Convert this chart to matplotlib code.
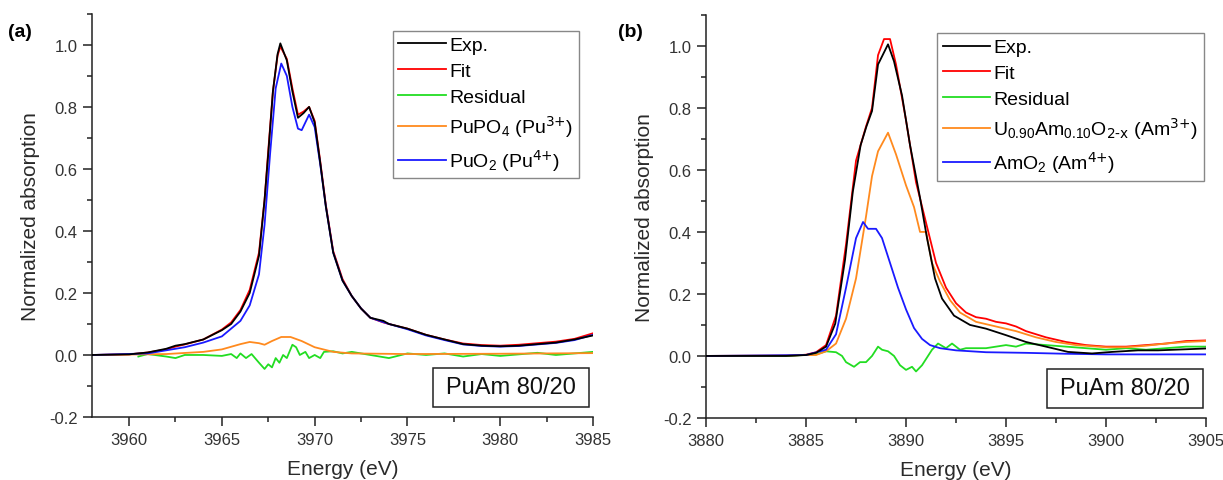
import matplotlib
matplotlib.use("Agg")
import matplotlib.pyplot as plt
from matplotlib.ticker import MultipleLocator
from matplotlib.patches import Rectangle

plt.rcParams['font.family'] = ['Liberation Sans', 'DejaVu Sans']
plt.rcParams['mathtext.default'] = 'regular'

# ---------------- Panel (a) data ----------------
a_exp_E = [3958, 3960, 3961, 3962, 3962.5, 3963, 3964, 3965, 3965.5, 3966, 3966.5, 3967, 3967.3, 3967.5,
           3967.75, 3968.0, 3968.15, 3968.5, 3968.8, 3969.1, 3969.4, 3969.7, 3970.0, 3970.3, 3970.6,
           3971.0, 3971.5, 3972, 3972.5, 3973, 3973.7, 3974, 3975, 3976, 3977, 3978, 3979, 3980, 3981,
           3982, 3983, 3984, 3985]
a_exp = [0.0, 0.002, 0.008, 0.02, 0.03, 0.035, 0.05, 0.08, 0.10, 0.14, 0.2, 0.32, 0.5, 0.65,
         0.85, 0.97, 1.005, 0.95, 0.85, 0.765, 0.78, 0.80, 0.75, 0.62, 0.48,
         0.33, 0.24, 0.19, 0.15, 0.12, 0.11, 0.10, 0.085, 0.065, 0.05, 0.035, 0.03, 0.028, 0.03,
         0.035, 0.04, 0.05, 0.063]
a_fit = [0.0, 0.002, 0.008, 0.018, 0.027, 0.034, 0.05, 0.082, 0.105, 0.145, 0.21, 0.33, 0.5, 0.66,
         0.85, 0.965, 0.995, 0.955, 0.86, 0.775, 0.785, 0.80, 0.755, 0.625, 0.485,
         0.335, 0.245, 0.19, 0.15, 0.12, 0.105, 0.10, 0.085, 0.065, 0.05, 0.037, 0.032, 0.03, 0.033,
         0.038, 0.043, 0.052, 0.07]
a_puo2_E = [3958, 3961, 3962, 3963, 3964, 3965, 3966, 3966.5, 3967, 3967.3, 3967.6, 3967.9, 3968.2,
            3968.5, 3968.8, 3969.1, 3969.3, 3969.7, 3970.0, 3970.3, 3970.6, 3971.0, 3971.5, 3972,
            3972.5, 3973, 3974, 3975, 3976, 3977, 3978, 3979, 3980, 3981, 3982, 3983, 3984, 3985]
a_puo2 = [0.0, 0.005, 0.015, 0.025, 0.04, 0.06, 0.11, 0.16, 0.26, 0.42, 0.65, 0.86, 0.94,
          0.90, 0.80, 0.73, 0.725, 0.775, 0.735, 0.615, 0.48, 0.33, 0.24, 0.19,
          0.15, 0.12, 0.10, 0.083, 0.063, 0.048, 0.034, 0.029, 0.027, 0.029, 0.034, 0.039, 0.048, 0.065]
a_pupo4_E = [3958, 3962, 3964, 3965, 3966, 3966.5, 3967.0, 3967.3, 3967.7, 3968.2, 3968.7, 3969.3,
             3970, 3971, 3972, 3975, 3980, 3985]
a_pupo4 = [0.0, 0.003, 0.01, 0.018, 0.035, 0.042, 0.038, 0.033, 0.045, 0.058, 0.058, 0.045,
           0.025, 0.01, 0.005, 0.003, 0.004, 0.006]
a_res_E = [3960.5, 3961, 3962, 3962.5, 3963, 3964, 3965, 3965.5, 3965.8, 3966, 3966.3, 3966.6, 3967.0,
           3967.3, 3967.5, 3967.7, 3967.9, 3968.1, 3968.3, 3968.5, 3968.8, 3969.0, 3969.2, 3969.5,
           3969.7, 3970, 3970.3, 3970.5, 3971, 3971.5, 3972, 3973, 3973.5, 3974, 3975, 3976, 3977,
           3978, 3979, 3980, 3981, 3982, 3983, 3984, 3985]
a_res = [-0.005, 0.003, -0.005, -0.01, 0.0, 0.0, -0.003, 0.003, -0.01, 0.005, -0.01, 0.003, -0.025,
         -0.045, -0.03, -0.04, -0.01, -0.025, 0.0, -0.01, 0.033, 0.025, 0.0, 0.01,
         -0.01, 0.0, -0.01, 0.01, 0.012, 0.005, 0.01, 0.0, -0.005, -0.01, 0.005, 0.0, 0.005,
         -0.005, 0.003, -0.003, 0.002, 0.007, 0.0, 0.005, 0.01]

# ---------------- Panel (b) data ----------------
b_exp_E = [3880, 3884, 3885, 3885.5, 3886, 3886.46, 3886.95, 3887.34, 3887.73, 3888.02, 3888.3, 3888.6,
           3889.1, 3889.4, 3889.8, 3890.2, 3890.7, 3891.05, 3891.45, 3891.8, 3892.4, 3893.2, 3894,
           3895, 3896, 3897, 3898.1, 3899.3, 3900.3, 3901.6, 3902.6, 3905]
b_exp = [0.0, 0.0, 0.003, 0.01, 0.03, 0.104, 0.31, 0.53, 0.68, 0.74, 0.79, 0.94,
         1.005, 0.95, 0.84, 0.68, 0.51, 0.38, 0.25, 0.185, 0.13, 0.10, 0.088,
         0.067, 0.045, 0.03, 0.013, 0.008, 0.013, 0.018, 0.018, 0.024]
b_fit_E = [3880, 3884, 3885, 3885.5, 3886, 3886.5, 3887, 3887.5, 3888, 3888.3, 3888.6, 3888.9, 3889.2,
           3889.5, 3890.0, 3890.5, 3891, 3891.5, 3892, 3892.5, 3893, 3893.5, 3894, 3894.5, 3895,
           3895.5, 3896, 3896.5, 3897, 3898, 3899, 3900, 3901, 3902, 3903, 3904, 3905]
b_fit = [0.0, 0.0, 0.004, 0.012, 0.035, 0.13, 0.36, 0.63, 0.74, 0.80, 0.97, 1.022, 1.022,
         0.94, 0.76, 0.56, 0.43, 0.30, 0.22, 0.17, 0.14, 0.125, 0.12, 0.11, 0.105,
         0.095, 0.08, 0.07, 0.06, 0.045, 0.035, 0.03, 0.03, 0.035, 0.04, 0.048, 0.05]
b_u_E = [3880, 3885.5, 3886, 3886.5, 3887, 3887.5, 3888.0, 3888.3, 3888.6, 3889.1, 3889.5, 3890.0,
         3890.4, 3890.7, 3891.0, 3891.3, 3891.7, 3892.2, 3892.7, 3893.5, 3894.5, 3895.5, 3896.5,
         3897.5, 3898.5, 3900, 3901, 3902, 3903, 3904, 3905]
b_u = [0.0, 0.003, 0.015, 0.04, 0.12, 0.25, 0.45, 0.58, 0.66, 0.72, 0.65, 0.55,
       0.48, 0.40, 0.40, 0.30, 0.24, 0.18, 0.14, 0.11, 0.095, 0.08, 0.06,
       0.045, 0.035, 0.028, 0.028, 0.033, 0.04, 0.045, 0.048]
b_amo2_E = [3880, 3885, 3886, 3886.5, 3887, 3887.5, 3887.85, 3888.1, 3888.5, 3888.8, 3889.2, 3889.6,
            3890.0, 3890.4, 3890.8, 3891.2, 3891.7, 3892.5, 3894, 3896, 3898, 3900, 3905]
b_amo2 = [0.0, 0.003, 0.02, 0.07, 0.22, 0.38, 0.432, 0.41, 0.41, 0.38, 0.30, 0.22,
          0.15, 0.09, 0.055, 0.035, 0.025, 0.018, 0.012, 0.01, 0.007, 0.005, 0.005]
b_res_E = [3881, 3884, 3885.5, 3886, 3886.5, 3886.8, 3887, 3887.4, 3887.7, 3888, 3888.3, 3888.6,
           3888.8, 3889.1, 3889.4, 3889.7, 3890.0, 3890.3, 3890.5, 3890.8, 3891.0, 3891.3, 3891.6,
           3892.0, 3892.3, 3892.7, 3893, 3894, 3894.5, 3895, 3895.5, 3896, 3897, 3898, 3899, 3900,
           3901, 3902, 3903, 3904, 3905]
b_res = [0.0, 0.0, 0.005, 0.015, 0.012, 0.0, -0.02, -0.035, -0.02, -0.02, 0.0, 0.03,
         0.02, 0.015, 0.0, -0.03, -0.045, -0.035, -0.05, -0.03, -0.01, 0.02, 0.04,
         0.025, 0.04, 0.02, 0.025, 0.025, 0.03, 0.035, 0.03, 0.04, 0.035, 0.03, 0.025, 0.02,
         0.025, 0.02, 0.025, 0.03, 0.03]

labels_a = ['Exp.', 'Fit', 'Residual', r'PuPO$_4$ (Pu$^{\text{3+}}$)', r'PuO$_2$ (Pu$^{\text{4+}}$)']
labels_b = ['Exp.', 'Fit', 'Residual',
            r'U$_{0.90}$Am$_{0.10}$O$_{\text{2-x}}$ (Am$^{\text{3+}}$)',
            r'AmO$_2$ (Am$^{\text{4+}}$)']
sample_label = 'PuAm 80/20'

C_EXP, C_FIT, C_RES, C_ORA, C_BLU = '#000000', '#ff0000', '#22dd22', '#ff8a1e', '#1a1aff'
LW = 1.3
TXT = '#2a2a2a'

fig = plt.figure(figsize=(12.23, 4.81), dpi=100)
axa = fig.add_axes([0.0752, 0.131, 0.4097, 0.838])
axb = fig.add_axes([0.5773, 0.129, 0.4088, 0.838])


def style(ax, xlim, box_x):
    ax.set_xlim(*xlim)
    ax.set_ylim(-0.2, 1.1)
    for s in ['top', 'right']:
        ax.spines[s].set_visible(False)
    for s in ['left', 'bottom']:
        ax.spines[s].set_linewidth(1.1)
        ax.spines[s].set_color('#222222')
    ax.xaxis.set_major_locator(MultipleLocator(5))
    ax.xaxis.set_minor_locator(MultipleLocator(2.5))
    ax.yaxis.set_minor_locator(MultipleLocator(0.1))
    ax.set_yticks([-0.2, 0.0, 0.2, 0.4, 0.6, 0.8, 1.0])
    ax.set_yticklabels(['-0.2', '0.0', '0.2', '0.4', '0.6', '0.8', '1.0'])
    ax.tick_params(which='major', direction='out', length=6.5, width=1.1, labelsize=12,
                   colors='#222222', labelcolor='#333333', pad=4)
    ax.tick_params(which='minor', direction='out', length=3.5, width=1.1, colors='#222222')
    ax.set_xlabel('Energy (eV)', fontsize=15, labelpad=9, color=TXT)
    ax.set_ylabel('Normalized absorption', fontsize=15, labelpad=6, color=TXT)
    x0, x1 = box_x
    ax.add_patch(Rectangle((x0, -0.168), x1 - x0, 0.126, fill=True, fc='white',
                           ec='#222222', lw=1.1, zorder=4))
    ax.text((x0 + x1) / 2, -0.103, sample_label, fontsize=17, ha='center', va='center',
            color='#111111', zorder=5)


LEG = dict(loc='upper right', fontsize=14, frameon=True, fancybox=False, edgecolor='#888888',
           handlelength=2.45, handletextpad=0.15, labelspacing=0.42, borderpad=0.3,
           borderaxespad=0.0, framealpha=1)

la = [
    axa.plot(a_exp_E, a_exp, color=C_EXP, lw=LW)[0],
    axa.plot(a_exp_E, a_fit, color=C_FIT, lw=LW)[0],
    axa.plot(a_res_E, a_res, color=C_RES, lw=LW)[0],
    axa.plot(a_pupo4_E, a_pupo4, color=C_ORA, lw=LW)[0],
    axa.plot(a_puo2_E, a_puo2, color=C_BLU, lw=LW)[0],
]
la[0].set_zorder(3)
style(axa, (3958, 3985), (3976.4, 3984.8))
axa.legend(la, labels_a, bbox_to_anchor=(0.972, 0.958), **LEG)

lb = [
    axb.plot(b_exp_E, b_exp, color=C_EXP, lw=LW)[0],
    axb.plot(b_fit_E, b_fit, color=C_FIT, lw=LW)[0],
    axb.plot(b_res_E, b_res, color=C_RES, lw=LW)[0],
    axb.plot(b_u_E, b_u, color=C_ORA, lw=LW)[0],
    axb.plot(b_amo2_E, b_amo2, color=C_BLU, lw=LW)[0],
]
lb[0].set_zorder(3)
style(axb, (3880, 3905), (3897.06, 3904.85))
axb.legend(lb, labels_b, bbox_to_anchor=(0.995, 0.955), **LEG)

fig.text(0.0065, 0.932, '(a)', fontsize=14, fontweight='bold', ha='left', va='center')
fig.text(0.5055, 0.932, '(b)', fontsize=14, fontweight='bold', ha='left', va='center')

fig.savefig('out.png', dpi=100)
